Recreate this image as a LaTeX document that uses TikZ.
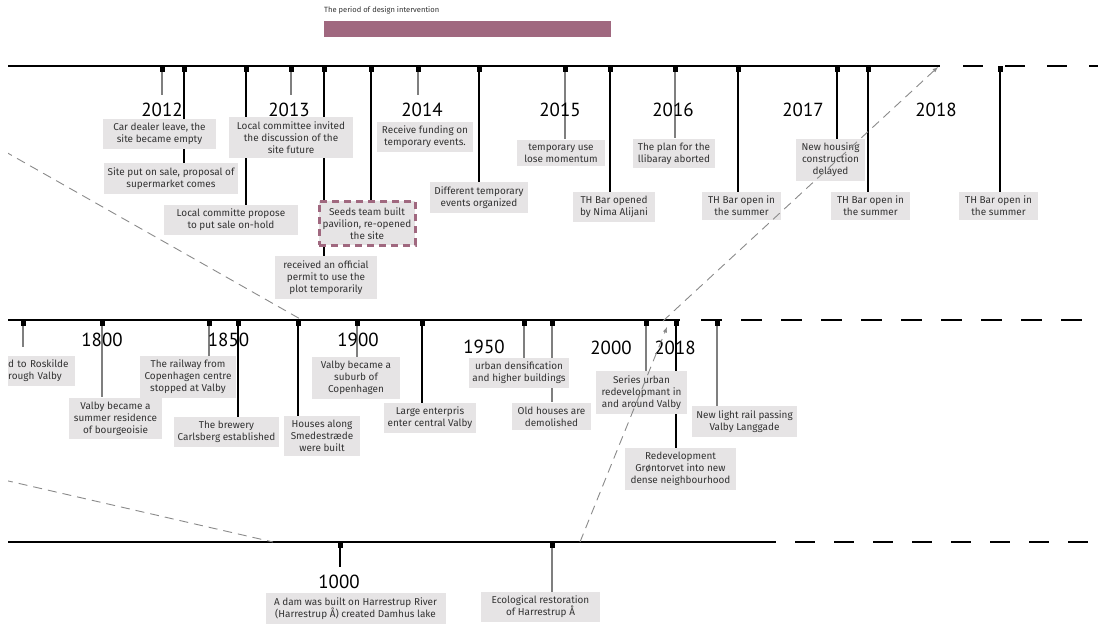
\documentclass[tikz,border=0pt]{standalone}
\usepackage{fontspec}
\setmainfont{PT Sans}
\newfontfamily\labelfont{Fira Sans}
\usetikzlibrary{arrows, positioning, backgrounds}
\definecolor{mpurp}{HTML}{A0687F}
\definecolor{mbox}{HTML}{E6E4E5}
\definecolor{mtext}{HTML}{333333}
\definecolor{mgray}{HTML}{7F7F7F}
\definecolor{mdash}{HTML}{8A8A8A}
\tikzstyle{event} = [rectangle, fill=mbox, text=mtext, align=center, inner xsep=3bp, inner ysep=4bp, font=\labelfont\fontsize{10}{12.2}\selectfont]
\tikzstyle{seedsbox} = [event, draw=mpurp, line width=3bp, dash pattern=on 7bp off 5bp]
\tikzstyle{year} = [inner sep=8bp, font=\fontsize{19}{19}\selectfont]
\tikzstyle{tickmark} = [rectangle, fill=black, minimum width=5bp, minimum height=6bp, inner sep=0pt, anchor=north]
\tikzstyle{timeline} = [line width=2bp]
\tikzstyle{future} = [line width=2bp]
\tikzstyle{stemline} = [line width=1.1bp]
\tikzstyle{stemgray} = [line width=1.3bp, mgray]
\tikzstyle{zoomline} = [mdash, line width=0.9bp, dash pattern=on 9bp off 6bp]
\begin{document}
\begin{tikzpicture}[x=1bp, y=-1bp]
\useasboundingbox (0,0) rectangle (1098,627);
\clip (8,0) rectangle (1098,627);
\node (bartitle) [anchor=west, inner sep=0pt, text=mtext, font=\labelfont\fontsize{7.6}{8}\selectfont] at (324,10) {The period of design intervention};
\node (bar) [rectangle, fill=mpurp, minimum width=287bp, minimum height=16bp, inner sep=0pt, anchor=north west] at (324,21) {};
\draw [timeline] (8,66) -- (940,66);
\draw [future, dash pattern=on 20bp off 22bp] (963,66) -- (1098,66);
\draw [timeline] (8,320) -- (680,320);
\draw [future, dash pattern=on 21bp off 19bp] (701,320) -- (1098,320);
\draw [timeline] (8,542) -- (776,542);
\draw [future, dash pattern=on 20bp off 19bp] (795,542) -- (1098,542);
\node (t1) [tickmark] at (162,66) {};
\node (t2) [tickmark] at (184,66) {};
\node (t3) [tickmark] at (246,66) {};
\node (t4) [tickmark] at (291,66) {};
\node (t5) [tickmark] at (324,66) {};
\node (t6) [tickmark] at (371,66) {};
\node (t7) [tickmark] at (418,66) {};
\node (t8) [tickmark] at (479,66) {};
\node (t9) [tickmark] at (565,66) {};
\node (t10) [tickmark] at (610,66) {};
\node (t11) [tickmark] at (675,66) {};
\node (t12) [tickmark] at (738,66) {};
\node (t13) [tickmark] at (837,66) {};
\node (t14) [tickmark] at (868,66) {};
\node (t15) [tickmark] at (1000,66) {};
\node (m1) [tickmark] at (23,320) {};
\node (m2) [tickmark] at (102,320) {};
\node (m3) [tickmark] at (209,320) {};
\node (m4) [tickmark] at (238,320) {};
\node (m5) [tickmark] at (298,320) {};
\node (m6) [tickmark] at (357,320) {};
\node (m7) [tickmark] at (422,320) {};
\node (m8) [tickmark] at (524,320) {};
\node (m9) [tickmark] at (552,320) {};
\node (m10) [tickmark] at (646,320) {};
\node (m11) [tickmark] at (676,320) {};
\node (m12) [tickmark] at (717,320) {};
\node (b1) [tickmark] at (340,542) {};
\node (b2) [tickmark] at (552,542) {};
\node (y2012) [year] at (162,110) {2012};
\node (y2013) [year] at (289,110) {2013};
\node (y2014) [year] at (422,110) {2014};
\node (y2015) [year] at (560,110) {2015};
\node (y2016) [year] at (673,110) {2016};
\node (y2017) [year] at (803,110) {2017};
\node (y2018) [year] at (936,110) {2018};
\node (y1800) [year] at (102,340) {1800};
\node (y1850) [year] at (228.5,340) {1850};
\node (y1900) [year] at (358,340) {1900};
\node (y1950) [year] at (484,347) {1950};
\node (y2000) [year] at (611,348) {2000};
\node (y2018b) [year] at (675,348) {2018};
\node (y1000) [year] at (339,582) {1000};
\node (car) [event, minimum width=113bp] at (159.5,134) {Car dealer leave, the\\site became empty};
\node (invite) [event, minimum width=124bp] at (291,137.5) {Local committee invited\\the discussion of the\\site future};
\node (fund) [event, minimum width=96bp] at (425,137) {Receive funding on\\temporary events.};
\node (momentum) [event, minimum width=88bp] at (561,153) {temporary use\\lose momentum};
\node (plan) [event, minimum width=82bp] at (674,153.5) {The plan for the\\llibaray aborted};
\node (sale) [event, minimum width=134bp] at (171,178.5) {Site put on sale, proposal of\\supermarket comes};
\node (hold) [event, minimum width=134bp] at (231,220) {Local committe propose\\to put sale on-hold};
\node (seeds) [seedsbox, minimum width=96bp, minimum height=44bp] at (367,223.5) {Seeds team built\\pavilion, re-opened\\the site};
\node (permit) [event, minimum width=102bp] at (326,277.5) {received an official\\permit to use the\\plot temporarily};
\node (events) [event, minimum width=98bp] at (479,197.5) {Different temporary\\events organized};
\node (thbar) [event, minimum width=82bp] at (614,207) {TH Bar opened\\by Nima Alijani};
\node (summer1) [event, minimum width=79bp] at (741.5,206) {TH Bar open in\\the summer};
\node (housing) [event, minimum width=69bp] at (830.5,160) {New housing\\construction\\delayed};
\node (summer2) [event, minimum width=79bp] at (870.5,206) {TH Bar open in\\the summer};
\node (summer3) [event, minimum width=79bp] at (998.5,206) {TH Bar open in\\the summer};
\node (roskilde) [event, anchor=west, text width=64bp, align=left] at (5,371) {d to Roskilde\\rough Valby};
\node (resid) [event, minimum width=93bp] at (115.5,418.5) {Valby became a\\summer residence\\of bourgeoisie};
\node (railway) [event, minimum width=96bp] at (188,377) {The railway from\\Copenhagen centre\\stopped at Valby};
\node (brewery) [event, minimum width=105bp] at (226.5,432) {The brewery\\Carlsberg established};
\node (houses) [event, minimum width=76bp] at (322,436) {Houses along\\Smedestræde\\were built};
\node (suburb) [event, minimum width=88bp] at (356,378) {Valby became a\\suburb of\\Copenhagen};
\node (enterprise) [event, minimum width=92bp] at (430,418) {Large enterpris\\enter central Valby};
\node (densify) [event, minimum width=100bp] at (519,373) {urban densification\\and higher buildings};
\node (demolish) [event, minimum width=79bp] at (551.5,416.5) {Old houses are\\demolished};
\node (series) [event, minimum width=91bp] at (641.5,392.5) {Series urban\\redevelopmant in\\and around Valby};
\node (gront) [event, minimum width=111bp] at (680.5,469) {Redevelopment\\Grøntorvet into new\\dense neighbourhood};
\node (lightrail) [event, minimum width=105bp] at (744.5,421.5) {New light rail passing\\Valby Langgade};
\node (dam) [event, minimum width=180bp] at (355.5,608.5) {A dam was built on Harrestrup River\\(Harrestrup Å) created Damhus lake};
\node (eco) [event, minimum width=119bp] at (540.5,607) {Ecological restoration\\of Harrestrup Å};
\begin{scope}[on background layer]
\draw [stemgray] (t1) -- (t1 |- y2012.north);
\draw [stemline] (t2) -- (t2 |- sale.north);
\draw [stemline] (t3) -- (t3 |- hold.north);
\draw [stemgray] (t4) -- (t4 |- y2013.north);
\draw [stemline] (t5) -- (t5 |- permit.north);
\draw [stemline] (t6) -- (t6 |- seeds.north);
\draw [stemgray] (t7) -- (t7 |- y2014.north);
\draw [stemline] (t8) -- (t8 |- events.north);
\draw [stemgray] (t9) -- (t9 |- momentum.north);
\draw [stemline] (t10) -- (t10 |- thbar.north);
\draw [stemgray] (t11) -- (t11 |- plan.north);
\draw [stemline] (t12) -- (t12 |- summer1.north);
\draw [stemline] (t13) -- (t13 |- housing.north);
\draw [stemline] (t14) -- (t14 |- summer2.north);
\draw [stemline] (t15) -- (t15 |- summer3.north);
\draw [stemgray, shorten >=9bp] (m1) -- (m1 |- roskilde.north);
\draw [stemgray] (m2) -- (m2 |- resid.north);
\draw [stemgray] (m3) -- (m3 |- railway.north);
\draw [stemline] (m4) -- (m4 |- brewery.north);
\draw [stemline] (m5) -- (m5 |- houses.north);
\draw [stemgray] (m6) -- (m6 |- suburb.north);
\draw [stemline] (m7) -- (m7 |- enterprise.north);
\draw [stemgray] (m8) -- (m8 |- densify.north);
\draw [stemgray] (m9) -- (m9 |- demolish.north);
\draw [stemgray] (m10) -- (m10 |- series.north);
\draw [stemline] (m11) -- (m11 |- gront.north);
\draw [stemgray] (m12) -- (m12 |- lightrail.north);
\draw [stemline] (b1) -- (b1 |- y1000.north);
\draw [stemgray] (b2) -- (b2 |- eco.north);
\end{scope}
\coordinate (zoomA) at (4,151);
\coordinate (zoomB) at (302,320);
\coordinate (zoomC) at (663,321);
\coordinate (zoomD) at (938,67);
\coordinate (zoomE) at (580,542);
\coordinate (zoomF) at (667,327);
\coordinate (zoomG) at (4,480);
\coordinate (zoomH) at (273,542);
\draw [zoomline] (zoomA) -- (zoomB);
\draw [zoomline, ->, >=latex] (zoomC) -- (zoomD);
\draw [zoomline, ->, >=latex] (zoomE) -- (zoomF);
\draw [zoomline] (zoomG) -- (zoomH);
\end{tikzpicture}
\end{document}
